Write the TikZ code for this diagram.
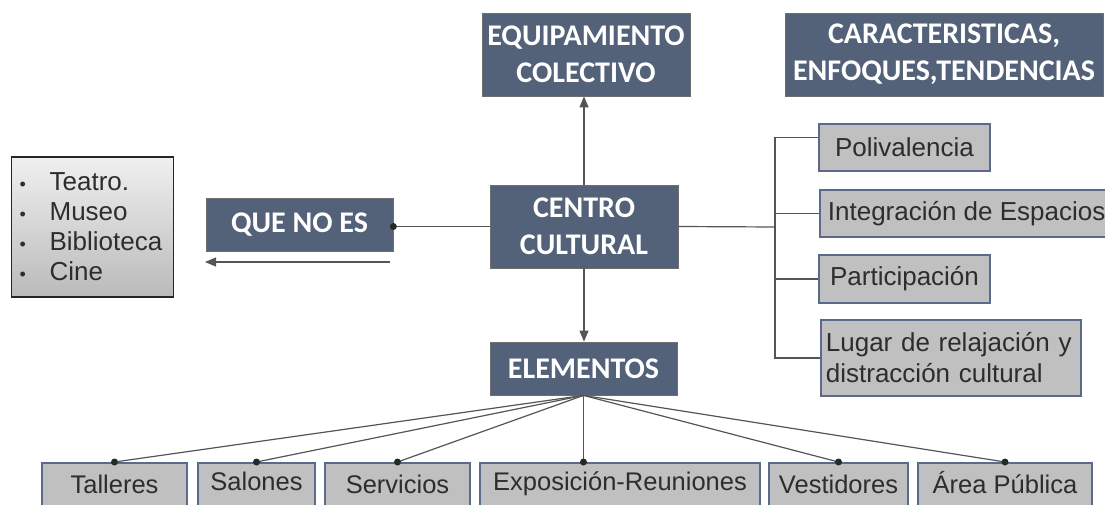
\documentclass[tikz,border=0pt]{standalone}
\usepackage{fontspec}
\setmainfont{Liberation Sans}
\newfontfamily\capfont{Carlito}
\usetikzlibrary{arrows.meta,calc}
\definecolor{boxblue}{RGB}{83,97,121}
\definecolor{edgegray}{RGB}{110,110,110}
\definecolor{itemgray}{RGB}{192,192,192}
\definecolor{itemline}{RGB}{90,106,138}
\definecolor{textgray}{RGB}{45,45,45}
\definecolor{linegray}{RGB}{85,85,85}
\definecolor{dotgray}{RGB}{40,40,40}

\tikzset{
  headbox/.style={draw=edgegray, line width=0.8pt, fill=boxblue, text=white, align=center, inner sep=0pt,
    font=\capfont\bfseries\fontsize{30}{37}\selectfont},
  itembox/.style={draw=itemline, line width=1.8pt, fill=itemgray, text=textgray, inner sep=0pt,
    font=\fontsize{26}{31}\selectfont},
  footbox/.style={itembox, anchor=north, text height=31pt, text depth=22pt, font=\fontsize{25.5}{30}\selectfont},
  link/.style={draw=linegray, line width=1.2pt},
  pointer/.style={-{Triangle[length=11pt,width=9pt]}}
}

\begin{document}
\begin{tikzpicture}[x=1pt, y=-1pt]
\useasboundingbox (0,0) rectangle (1105,505);

% top row
\node[headbox, minimum width=208, minimum height=83] (equip) at (586,54.5) {EQUIPAMIENTO\\COLECTIVO};
\node[headbox, minimum width=318, minimum height=83] (carac) at (944,54.5) {CARACTERISTICAS,\\ENFOQUES,TENDENCIAS};

% middle row
\node[headbox, minimum width=188, minimum height=83] (centro) at (584,226.5) {CENTRO\\CULTURAL};
\node[headbox, minimum width=187, minimum height=53] (queno) at (299.5,224.5) {QUE NO ES};
\node[draw=black!85, line width=1.2pt, top color=black!6, bottom color=black!27, anchor=west,
  minimum width=162, minimum height=140, text width=146, inner xsep=8pt, align=left, text=textgray,
  font=\fontsize{26}{30}\selectfont] (cases) at (11,227)
  {\makebox[30pt][l]{\fontsize{18}{30}\selectfont\textbullet}Teatro.\\
   \makebox[30pt][l]{\fontsize{18}{30}\selectfont\textbullet}Museo\\
   \makebox[30pt][l]{\fontsize{18}{30}\selectfont\textbullet}Biblioteca\\
   \makebox[30pt][l]{\fontsize{18}{30}\selectfont\textbullet}Cine};
\node[headbox, minimum width=187, minimum height=53] (elem) at (583.5,368.5) {ELEMENTOS};

% right column
\node[itembox, minimum width=171, minimum height=47] (poli) at (904.5,147.5) {Polivalencia};
\node[itembox, anchor=west, inner xsep=8pt, minimum height=47] (integ) at (819,213.5) {Integración de Espacios};
\node[itembox, minimum width=171, minimum height=48] (parti) at (904.5,279) {Participación};
\node[itembox, anchor=west, inner xsep=5pt, text width=250, align=left, minimum height=76] (lugar) at (820,358)
  {Lugar de relajación y\\distracción cultural};

% bottom row
\node[footbox, minimum width=145] (talleres) at (114.5,462) {Talleres};
\node[footbox, minimum width=117, text height=28pt] (salones) at (256.5,462) {Salones};
\node[footbox, minimum width=145] (servicios) at (397.5,462) {Servicios};
\node[footbox, minimum width=280, text height=28pt] (expos) at (620,462) {Exposición-Reuniones};
\node[footbox, minimum width=139] (vestidores) at (838.5,462) {Vestidores};
\node[footbox, minimum width=174] (area) at (1005,462) {Área Pública};

% connectors
\draw[link, pointer] (centro.north) -- (centro.north |- equip.south);
\draw[link, pointer] (centro.south) -- (centro.south |- elem.north);
\draw[link] (centro.west) -- (centro.west -| queno.east);
\fill[dotgray] (centro.west -| queno.east) circle (3.5);
\coordinate (back-from) at (390,262);
\coordinate (back-to) at (205,262);
\draw[link, pointer] (back-from) -- (back-to);

\coordinate (bus) at (775,227);
\coordinate (poli-in) at ($(poli.north west)!0.3!(poli.south west)$);
\draw[link] (centro.east) -- (bus);
\draw[link] (poli-in) -| (bus |- lugar.west) -- (lugar.west);
\foreach \n in {integ, parti}
  \draw[link] (bus |- \n.west) -- (\n.west);

\foreach \n in {talleres, salones, servicios, vestidores, area} {
  \draw[link] (elem.south) -- (\n.north);
  \fill[dotgray] (\n.north) circle (3.5);
}
\draw[link] (elem.south) -- (elem.south |- expos.north);
\fill[dotgray] (elem.south |- expos.north) circle (3.5);
\end{tikzpicture}
\end{document}
